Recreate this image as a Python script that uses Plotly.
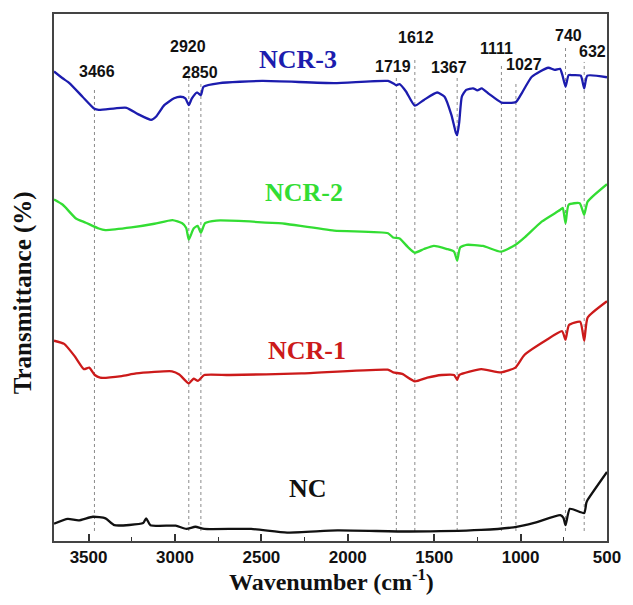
import plotly.graph_objects as go

# FTIR spectra (wavenumber in cm-1, offset transmittance in arbitrary units)
ncr3_wn = [3700, 3650, 3611, 3535, 3466, 3441, 3346, 3280, 3214, 3138, 3110, 3062, 3005, 2968,
           2940, 2920, 2902, 2873, 2850, 2835, 2741, 2495, 2079, 1767, 1735, 1719, 1700, 1663,
           1612, 1559, 1483, 1440, 1400, 1375, 1367, 1355, 1340, 1315, 1275, 1250, 1225, 1181,
           1111, 1027, 991, 935, 840, 802, 772, 758, 740, 722, 700, 652, 632, 614, 500]
ncr3_t = [89.1, 87.8, 86.9, 84.3, 82.0, 81.8, 82.1, 82.2, 81.0, 79.9, 80.5, 82.7, 84.0, 84.3,
          84.0, 82.7, 84.0, 85.1, 84.6, 86.2, 86.9, 87.3, 86.9, 87.3, 86.8, 86.5, 86.7, 85.3,
          82.6, 83.7, 85.1, 84.3, 80.8, 77.5, 77.0, 79.5, 84.3, 85.6, 85.9, 85.5, 85.9, 84.8,
          83.2, 83.3, 85.1, 88.1, 89.8, 89.4, 89.6, 88.4, 86.2, 88.4, 88.4, 88.3, 85.9, 88.3, 88.0]

ncr2_wn = [3700, 3649, 3573, 3516, 3441, 3403, 3252, 3119, 3015, 2958, 2935, 2920, 2892, 2869,
           2850, 2826, 2760, 2401, 2363, 2079, 1767, 1738, 1700, 1653, 1612, 1559, 1502, 1426,
           1385, 1367, 1350, 1313, 1218, 1114, 1029, 973, 878, 772, 756, 740, 722, 658, 632,
           612, 500]
ncr2_t = [64.8, 63.8, 61.2, 60.4, 59.3, 59.0, 59.5, 60.2, 60.9, 60.3, 59.4, 57.2, 59.3, 59.8,
          58.5, 60.3, 60.8, 60.3, 60.2, 58.9, 58.4, 57.6, 57.4, 55.8, 54.7, 55.4, 56.0, 55.4,
          54.9, 53.2, 55.7, 56.2, 56.0, 54.9, 56.2, 57.7, 60.6, 62.8, 63.2, 60.3, 63.8, 64.1,
          61.9, 64.4, 67.7]

ncr1_wn = [3700, 3641, 3579, 3527, 3496, 3464, 3433, 3308, 3225, 3017, 2975, 2920, 2892, 2867,
           2830, 2684, 2268, 1769, 1737, 1685, 1612, 1540, 1456, 1385, 1367, 1355, 1228, 1113,
           1030, 978, 853, 760, 740, 720, 655, 632, 612, 500]
ncr1_t = [38.0, 37.4, 35.0, 32.6, 32.9, 31.5, 31.0, 31.3, 31.8, 32.2, 31.6, 29.9, 30.8, 30.4,
          31.5, 31.5, 31.8, 32.5, 32.0, 31.7, 30.3, 31.0, 31.5, 31.5, 30.6, 31.5, 32.6, 32.0,
          32.9, 35.3, 38.1, 39.8, 38.2, 41.0, 41.6, 38.0, 42.4, 45.5]

nc_wn = [3700, 3620, 3558, 3475, 3402, 3350, 3184, 3167, 3142, 2996, 2934, 2882, 2830, 2559,
         2351, 2060, 1644, 1228, 1041, 916, 770, 752, 740, 715, 632, 620, 614, 500]
nc_t = [3.3, 4.2, 3.9, 4.6, 4.3, 3.0, 3.4, 4.3, 3.0, 2.9, 2.3, 2.7, 2.3, 2.3,
        1.6, 2.0, 1.8, 2.1, 2.6, 3.5, 4.9, 4.4, 3.0, 6.1, 5.3, 7.2, 7.7, 13.1]

series_names = ["NCR-3", "NCR-2", "NCR-1", "NC"]
series_colors = ["#1c1cae", "#33dd33", "#cc1a1a", "#111111"]

# Band assignments marked with dotted guide lines
band_labels = [3466, 2920, 2850, 1719, 1612, 1367, 1111, 1027, 740, 632]

x_ticks = [3500, 3000, 2500, 2000, 1500, 1000, 500]

fig = go.Figure()
for name, wn, t, color in zip(series_names,
                              [ncr3_wn, ncr2_wn, ncr1_wn, nc_wn],
                              [ncr3_t, ncr2_t, ncr1_t, nc_t],
                              series_colors):
    fig.add_trace(go.Scatter(x=wn, y=t, mode="lines", name=name,
                             line=dict(color=color, width=2.3, shape="spline", smoothing=0.5),
                             showlegend=False))

# label placement (x in cm-1, y in plot units) and line tops
label_pos = {3466: (3452, 89.0), 2920: (2926, 93.9), 2850: (2853, 88.9),
             1719: (1737, 90.0), 1612: (1605, 95.5), 1367: (1413, 89.8),
             1111: (1142, 93.4), 1027: (983, 90.5), 740: (721, 96.0), 632: (582, 92.8)}
line_top = {3466: 86.0, 2920: 90.3, 2850: 86.9, 1719: 88.4, 1612: 91.3,
            1367: 88.0, 1111: 90.3, 1027: 87.1, 740: 93.7, 632: 90.9}

for b in band_labels:
    fig.add_shape(type="line", x0=b, x1=b, y0=1.9, y1=line_top[b], xref="x", yref="y",
                  line=dict(color="#8a8a8a", width=1, dash="dot"), layer="below")
    lx, ly = label_pos[b]
    fig.add_annotation(x=lx, y=ly, xref="x", yref="y", text=str(b), showarrow=False,
                       xanchor="center", yanchor="middle",
                       font=dict(family="Liberation Sans", size=16, color="#111111",
                                 weight="bold"))

# series names
name_pos = {"NCR-3": (0.442, 0.914), "NCR-2": (0.452, 0.662), "NCR-1": (0.458, 0.362),
            "NC": (0.460, 0.099)}
for name, color in zip(series_names, series_colors):
    px, py = name_pos[name]
    fig.add_annotation(x=px, y=py, xref="paper", yref="paper", text=name, showarrow=False,
                       xanchor="center", yanchor="middle",
                       font=dict(family="Liberation Serif", size=26, color=color,
                                 weight="bold"))

# axis titles
fig.add_annotation(x=0.502, y=-0.074, xref="paper", yref="paper",
                   text="Wavenumber (cm<sup>-1</sup>)", showarrow=False,
                   xanchor="center", yanchor="middle",
                   font=dict(family="Liberation Serif", size=24, color="#111111", weight="bold"))
fig.add_annotation(x=-0.056, y=0.47, xref="paper", yref="paper",
                   text="Transmittance (%)", showarrow=False, textangle=-90,
                   xanchor="center", yanchor="middle",
                   font=dict(family="Liberation Serif", size=25, color="#111111", weight="bold"))

fig.update_layout(
    width=633, height=605,
    margin=dict(l=54, r=15, t=14, b=64),
    paper_bgcolor="white", plot_bgcolor="white",
    xaxis=dict(range=[3700, 500], tickvals=x_ticks, ticks="inside", ticklen=7,
               tickwidth=1.5, tickcolor="#333333",
               minor=dict(ticks="inside", ticklen=4, dtick=250, tick0=250,
                          tickcolor="#333333", tickwidth=1.2),
               showgrid=False, zeroline=False, showline=True, mirror=True,
               linecolor="#444444", linewidth=2,
               tickfont=dict(family="Liberation Sans", size=17, color="#111111",
                             weight="bold")),
    yaxis=dict(range=[0, 100], showticklabels=False, ticks="", showgrid=False,
               zeroline=False, showline=True, mirror=True, linecolor="#444444",
               linewidth=2),
)

fig.write_html("out.html")
